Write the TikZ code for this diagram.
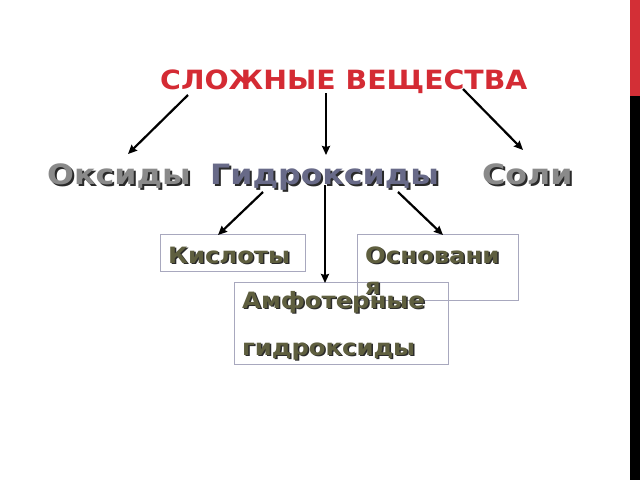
\documentclass[tikz,border=0pt]{standalone}
\usepackage{graphicx}
\usepackage{fontspec}
\setmainfont{DejaVu Sans}
\usetikzlibrary{arrows.meta}
\definecolor{titlered}{HTML}{D42B34}
\definecolor{greytext}{HTML}{8A8A8A}
\definecolor{bluetext}{HTML}{686A88}
\definecolor{olivetext}{HTML}{5F5F3F}
\definecolor{boxline}{HTML}{A8A8BE}
\definecolor{barred}{HTML}{D32F36}
\definecolor{shadowcol}{HTML}{2A2A2A}
\newcommand\stretchT[1]{\scalebox{1.07}[1]{#1}}
% shadowed text: #1 colour, #2 offset, #3 horizontal stretch, #4 text
\newcommand\shtxt[4]{\makebox[0pt][l]{\hspace*{#2}\raisebox{-#2}[0pt][0pt]{\textcolor{shadowcol}{\scalebox{#3}[1]{#4}}}}\textcolor{#1}{\scalebox{#3}[1]{#4}}}
\tikzset{
  arr/.style={line width=2.2pt,-{Stealth[length=9pt,width=8pt,inset=1pt]}},
  bigtxt/.style={font=\fontsize{28}{30}\selectfont\bfseries,inner sep=0pt,anchor=base west},
  smalltxt/.style={font=\fontsize{22.5}{24}\selectfont\bfseries,inner sep=0pt,anchor=base west},
  boxframe/.style={draw=boxline,line width=0.8pt,inner sep=0pt,anchor=north west},
}
\begin{document}
\begin{tikzpicture}[x=1pt,y=-1pt]
\useasboundingbox (0,0) rectangle (640,480);
\fill[white] (0,0) rectangle (640,480);
% right bar
\fill[barred] (630,0) rectangle (640,96);
\fill[black] (630,96) rectangle (640,480);
% title
\node[font=\fontsize{26.5}{28}\selectfont\bfseries,text=titlered,inner sep=0pt,anchor=base west] (title) at (160,89) {\stretchT{СЛОЖНЫЕ ВЕЩЕСТВА}};
% second level
\node[bigtxt] (oks) at (47,184) {\shtxt{greytext}{2pt}{1.13}{Оксиды}};
\node[bigtxt] (gid) at (210,184) {\shtxt{bluetext}{2pt}{1.13}{Гидроксиды}};
\node[bigtxt] (sol) at (482,184) {\shtxt{greytext}{2pt}{1.13}{Соли}};
% boxes
\node[boxframe,minimum width=145pt,minimum height=37pt] (kisl) at (160,234) {};
\node[boxframe,minimum width=161pt,minimum height=66pt] (osn) at (357,234) {};
\node[boxframe,minimum width=214pt,minimum height=82pt] (amf) at (234,282) {};
% box texts
\node[smalltxt] (kisl-t) at (168,263) {\shtxt{olivetext}{1.5pt}{1.08}{Кислоты}};
\node[smalltxt] (osn1) at (365,263) {\shtxt{olivetext}{1.5pt}{1.08}{Основани}};
\node[smalltxt] (osn2) at (365,294) {\shtxt{olivetext}{1.5pt}{1.08}{я}};
\node[smalltxt] (amf1) at (242,308) {\shtxt{olivetext}{1.5pt}{1.08}{Амфотерные}};
\node[smalltxt] (amf2) at (242,355) {\shtxt{olivetext}{1.5pt}{1.08}{гидроксиды}};
% connector endpoints
\coordinate (t1) at (188,95);
\coordinate (t2) at (326,93);
\coordinate (t3) at (463,89);
\coordinate (e1) at (128,154);
\coordinate (e2) at (326,155);
\coordinate (e3) at (523,150);
\coordinate (g1) at (263,192);
\coordinate (g2) at (325,185);
\coordinate (g3) at (398,192);
\coordinate (k1) at (218,235);
\coordinate (a1) at (325,283);
\coordinate (o1) at (443,235);
\draw[arr] (t1) -- (e1);
\draw[arr] (t2) -- (e2);
\draw[arr] (t3) -- (e3);
\draw[arr] (g1) -- (k1);
\draw[arr] (g2) -- (a1);
\draw[arr] (g3) -- (o1);
\end{tikzpicture}
\end{document}
